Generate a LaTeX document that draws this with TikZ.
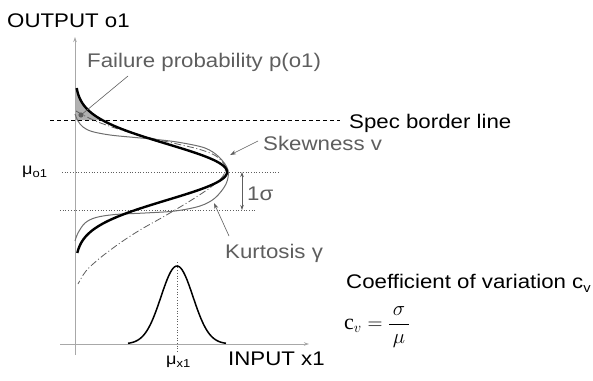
\documentclass[tikz,border=0pt]{standalone}
\usepackage{fontspec}
\setmainfont{Liberation Sans}[FakeStretch=1.13]
\newfontfamily\tmsfont{Liberation Serif}
\usetikzlibrary{arrows.meta}
\definecolor{axisgray}{HTML}{A8A8A8}
\definecolor{labgray}{HTML}{5E5E5E}
\definecolor{curvegray}{HTML}{6E6E6E}
\definecolor{fillgray}{HTML}{B0B0B0}
\begin{document}
\begin{tikzpicture}[x=1pt,y=-1pt,
  lab/.style={anchor=base west, inner sep=0pt, font=\fontsize{19.7}{22}\selectfont},
  glab/.style={lab, text=labgray},
  axisline/.style={axisgray, line width=1pt, -{Stealth[length=5pt,width=3.5pt]}},
  guide/.style={labgray, line width=0.7pt, dotted},
  ptr/.style={labgray, line width=0.6pt, -{Stealth[length=6pt,width=4pt]}},
  mainpdf/.style={black, line width=2.4pt},
  kurtpdf/.style={curvegray, line width=1pt},
  skewpdf/.style={labgray, line width=0.8pt, dash pattern=on 7pt off 2.5pt on 1pt off 2.5pt}]
\useasboundingbox (0,0) rectangle (593,380);

% failure probability area
\fill[fillgray] (75,88) -- plot[domain=88:120, samples=30, variable=\t]
  ({75+152*exp(-0.5*((\t-172)/28)*((\t-172)/28))}, \t) -- (75,120) -- cycle;

% guide lines
\draw[guide] (62,172) -- (280,172);
\draw[guide] (60,210) -- (257,210);
\draw[guide] (177,262) -- (177,353);
\draw[black, line width=0.8pt, dash pattern=on 4pt off 3pt] (50,120) -- (340,120);

% axes
\coordinate (ybot) at (75,355);
\coordinate (ytop) at (75,37);
\coordinate (xleft) at (60,344);
\coordinate (xright) at (309,344);
\draw[axisline] (ybot) -- (ytop);
\draw[axisline] (xleft) -- (xright);

% output distributions
\draw[kurtpdf] plot[smooth, tension=0.55] coordinates {
  (75,114) (78,121) (83,127) (92,131.5) (110,135) (135,137.5) (157,139.5)
  (180,142.5) (205,148) (219,157) (228,170) (226,184) (215,198) (200,206)
  (175,211) (145,213) (115,214.5) (96,217.5) (85,223) (78,233) (75,241)};
\draw[skewpdf] plot[smooth, tension=0.55] coordinates {
  (76,111) (85,116) (98,122) (115,128) (135,134) (155,139) (175,143.5)
  (200,149.5) (216,156) (225,166) (223,176) (211,187) (190,201) (163,217)
  (140,230) (120,243) (100,258) (86,271) (78,284)};
\draw[mainpdf] plot[domain=88:253, samples=120, variable=\t]
  ({75+152*exp(-0.5*((\t-172)/28)*((\t-172)/28))}, \t);

% input distribution
\draw[black, line width=1.5pt] plot[domain=128:226, samples=100, variable=\t]
  (\t, {344-78*exp(-0.5*((\t-177)/16)*((\t-177)/16))});

% labels
\node[lab] (out) at (7,27) {OUTPUT o1};
\node[glab] (fail) at (87,67) {Failure probability p(o1)};
\node[lab] (spec) at (349,128) {Spec border line};
\node[glab] (skew) at (263,150) {Skewness v};
\node[glab] (sig) at (247,200) {1σ};
\node[glab] (kurt) at (225,258) {Kurtosis γ};
\node[lab] (inp) at (228,365) {INPUT x1};
\node[lab] (coef) at (346,288) {Coefficient of variation c\raisebox{-4pt}{\fontsize{13}{14}\selectfont v}};
\node[anchor=base west, inner sep=0pt] (muo) at (22,174)
  {\fontsize{16}{18}\selectfont μ\raisebox{-3.5pt}{\fontsize{11.5}{12}\selectfont o1}};
\node[anchor=base west, inner sep=0pt] (mux) at (166,364)
  {\fontsize{16}{18}\selectfont μ\raisebox{-3.5pt}{\fontsize{11.5}{12}\selectfont x1}};
\node (cv) at (377,327) {\fontsize{22}{26}\selectfont$\mbox{\tmsfont c}_{v}=\displaystyle\frac{\,\sigma\,}{\mu}$};

% pointers
\coordinate (faildot) at (81,115);
\coordinate (failfrom) at (128,76);
\draw[labgray, line width=0.6pt] (failfrom) -- (faildot);
\fill[labgray] (faildot) circle (2.6pt);
\coordinate (skewfrom) at (258,141);
\coordinate (skewto) at (230,155);
\draw[ptr] (skewfrom) -- (skewto);
\coordinate (kurtfrom) at (229,236);
\coordinate (kurtto) at (214,203);
\draw[ptr] (kurtfrom) -- (kurtto);
\coordinate (sigtop) at (242,172);
\coordinate (sigbot) at (242,210);
\draw[labgray, line width=0.6pt, {Stealth[length=5pt,width=3.5pt]}-{Stealth[length=5pt,width=3.5pt]}] (sigtop) -- (sigbot);
\end{tikzpicture}
\end{document}
